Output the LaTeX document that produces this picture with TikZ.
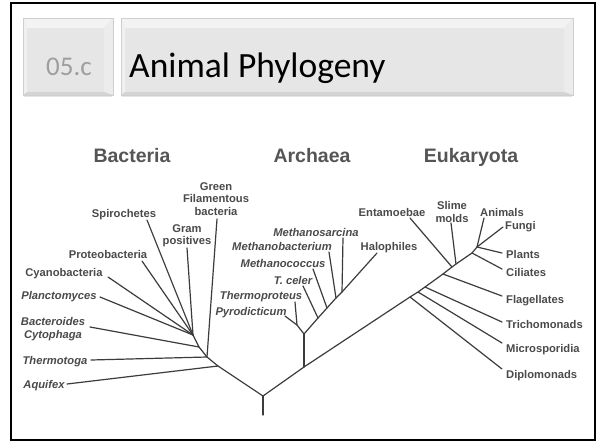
\documentclass[tikz,border=0pt]{standalone}
\usepackage{fontspec}
\setmainfont{Liberation Sans}
\newfontfamily\calibri{Carlito}
\definecolor{linec}{HTML}{3C3C3C}
\definecolor{labc}{HTML}{4A4A4A}
\definecolor{headc}{HTML}{555555}
\definecolor{bface}{HTML}{E6E6E6}
\definecolor{btop}{HTML}{F3F3F3}
\definecolor{bleft}{HTML}{F0F0F0}
\definecolor{bright}{HTML}{ECECEC}
\definecolor{bbot}{HTML}{D4D4D4}
\definecolor{bline}{HTML}{CFCFCF}
\begin{document}
\begin{tikzpicture}[x=1pt,y=-1pt,
  br/.style={draw=linec, line width=1.2pt, line cap=round, line join=round},
  lab/.style={font=\fontsize{11.2}{12.5}\selectfont\bfseries, text=labc, inner sep=0pt, text height=8pt, text depth=0pt},
  ilab/.style={lab, font=\fontsize{11.2}{12.5}\selectfont\bfseries\itshape},
  mlab/.style={font=\fontsize{11.2}{12.5}\selectfont\bfseries, text=labc, inner sep=0pt, align=center},
  imlab/.style={mlab, font=\fontsize{11.2}{12.5}\selectfont\bfseries\itshape},
  head/.style={font=\fontsize{19.5}{22}\selectfont\bfseries, text=headc, inner sep=0pt, text height=14pt, text depth=0pt},
  face/.style={fill=bface, draw=none}]
\useasboundingbox (0,0) rectangle (600,442);
\fill[white] (0,0) rectangle (600,442);
% frame
\draw[line width=2pt, black] (11,3) rectangle (595,440);
% bevel boxes
\foreach \xa/\xb in {23/113, 121/573} {
  \fill[bface] (\xa,18) rectangle (\xb,95);
  \fill[btop] (\xa,18) -- (\xb,18) -- (\xb-9,28) -- (\xa+4,28) -- cycle;
  \fill[bleft] (\xa,18) -- (\xa+4,28) -- (\xa+4,92) -- (\xa,95) -- cycle;
  \fill[bright] (\xb,18) -- (\xb-9,28) -- (\xb-9,92) -- (\xb,95) -- cycle;
  \fill[bbot] (\xa,95) -- (\xa+4,92) -- (\xb-9,92) -- (\xb,95) -- cycle;
  \draw[bline, line width=0.6pt] (\xa,18) rectangle (\xb,95);
  \draw[black!10, line width=1pt] (\xa+1,96.5) -- (\xb-1,96.5);
}
\node[anchor=base west, inner sep=0pt, text=black!38, font=\calibri\fontsize{27}{30}\selectfont] (num) at (46,75) {05.c};
\node[anchor=base west, inner sep=0pt, text=black, font=\calibri\fontsize{35.5}{40}\selectfont] (title) at (129,77) {Animal Phylogeny};
% headers
\node[head] (hB) at (132,155) {Bacteria};
\node[head] (hA) at (312,155) {Archaea};
\node[head] (hE) at (471,155) {Eukaryota};
% junction coordinates
\coordinate (R0) at (263,415);
\coordinate (R) at (263,396);
\coordinate (bA) at (218,366);
\coordinate (bT) at (207,357);
\coordinate (bB) at (199,347);
\coordinate (bC) at (193,335);
\coordinate (aR) at (304,367);
\coordinate (aN) at (304,334);
\coordinate (aP) at (297,325);
\coordinate (aT) at (318,318);
\coordinate (aMc) at (327,308);
\coordinate (aMb) at (336,298);
\coordinate (aMs) at (342,292);
\coordinate (eD) at (410,297);
\coordinate (eM) at (418,292);
\coordinate (eTr) at (425,287);
\coordinate (eF) at (443,274);
\coordinate (eE) at (452,267);
\coordinate (eS) at (456,264);
\coordinate (eC) at (472,253);
\coordinate (eTop) at (477,247);
% leaf ends
\coordinate (lAq) at (67,384);
\coordinate (lTh) at (91,360);
\coordinate (lGr) at (217,219);
\coordinate (lBa) at (90,327);
\coordinate (lPl) at (100,297);
\coordinate (lCy) at (108,277);
\coordinate (lPr) at (142,261);
\coordinate (lSp) at (147,220);
\coordinate (lGp) at (187,248);
\coordinate (lPy) at (285,316);
\coordinate (lTp) at (295,302);
\coordinate (lTc) at (303,286);
\coordinate (lMc) at (313,269);
\coordinate (lMb) at (329,252);
\coordinate (lMs) at (343,238);
\coordinate (lHa) at (377,253);
\coordinate (lDi) at (502,369);
\coordinate (lMi) at (502,343);
\coordinate (lTr) at (502,322);
\coordinate (lFl) at (502,296);
\coordinate (lEn) at (410,218);
\coordinate (lSl) at (451,223);
\coordinate (lCi) at (502,269);
\coordinate (lPlt) at (502,253);
\coordinate (lFu) at (503,227);
\coordinate (lAn) at (484,218);
% labels
\node[lab] (tSp) at (124,213) {Spirochetes};
\node[mlab] (tGp) at (187,235.5) {Gram\\positives};
\node[mlab] (tGr) at (216,199) {Green\\Filamentous\\bacteria};
\node[lab] (tPr) at (108,254) {Proteobacteria};
\node[lab] (tCy) at (64,272) {Cyanobacteria};
\node[ilab] (tPl) at (59,295) {Planctomyces};
\node[imlab] (tBa) at (53,329) {Bacteroides\\Cytophaga};
\node[ilab] (tTh) at (55,360) {Thermotoga};
\node[ilab] (tAq) at (44,384) {Aquifex};
\node[ilab] (tMs) at (316,232) {Methanosarcina};
\node[ilab] (tMb) at (282,246) {Methanobacterium};
\node[ilab] (tMc) at (283,263) {Methanococcus};
\node[ilab] (tTc) at (293,280) {T. celer};
\node[ilab] (tTp) at (261,295) {Thermoproteus};
\node[ilab] (tPy) at (251,311) {Pyrodicticum};
\node[lab] (tHa) at (389,246) {Halophiles};
\node[lab] (tEn) at (392,212) {Entamoebae};
\node[mlab] (tSl) at (452,212) {Slime\\molds};
\node[lab] (tAn) at (502,212) {Animals};
\node[lab, anchor=west] (tFu) at (505,225) {Fungi};
\node[lab, anchor=west] (tPlt) at (506,254) {Plants};
\node[lab, anchor=west] (tCi) at (506,272) {Ciliates};
\node[lab, anchor=west] (tFl) at (506,299) {Flagellates};
\node[lab, anchor=west] (tTr) at (506,324) {Trichomonads};
\node[lab, anchor=west] (tMi) at (506,348) {Microsporidia};
\node[lab, anchor=west] (tDi) at (506,374) {Diplomonads};
% tree: trunk and bacteria
\draw[br] (R0) -- (R);
\draw[br] (R) -- (bA) -- (bT) -- (bB) -- (bC);
\draw[br] (lAq) -- (bA);
\draw[br] (lTh) -- (bT);
\draw[br] (lGr) -- (bT);
\draw[br] (lBa) -- (bB);
\draw[br] (lPl) -- (bC);
\draw[br] (lCy) -- (bC);
\draw[br] (lPr) -- (bC);
\draw[br] (lSp) -- (bC);
\draw[br] (lGp) -- (bC);
% archaea
\draw[br] (R) -- (aR);
\draw[br] (aR) -- (aN);
\draw[br] (aN) -- (aP);
\draw[br] (lPy) -- (aP);
\draw[br] (lTp) -- (aP);
\draw[br] (aN) -- (aT) -- (aMc) -- (aMb) -- (aMs) -- (lHa);
\draw[br] (lTc) -- (aT);
\draw[br] (lMc) -- (aMc);
\draw[br] (lMb) -- (aMb);
\draw[br] (lMs) -- (aMs);
% eukaryota
\draw[br] (aR) -- (eD) -- (eM) -- (eTr) -- (eF) -- (eE) -- (eS) -- (eC) -- (eTop);
\draw[br] (eD) -- (lDi);
\draw[br] (eM) -- (lMi);
\draw[br] (eTr) -- (lTr);
\draw[br] (eF) -- (lFl);
\draw[br] (lEn) -- (eE);
\draw[br] (lSl) -- (eS);
\draw[br] (eC) -- (lCi);
\draw[br] (eTop) -- (lPlt);
\draw[br] (eTop) -- (lFu);
\draw[br] (eTop) -- (lAn);
\end{tikzpicture}
\end{document}
